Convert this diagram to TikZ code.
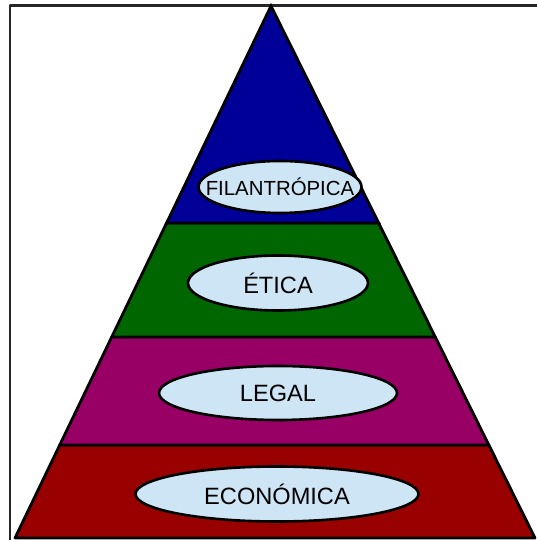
\documentclass[tikz,border=0pt]{standalone}
\usepackage{fontspec}
\setmainfont{Liberation Sans}
\usetikzlibrary{shapes.geometric,calc}
\definecolor{filanColor}{RGB}{0,0,153}
\definecolor{eticaColor}{RGB}{0,102,0}
\definecolor{legalColor}{RGB}{153,0,102}
\definecolor{econColor}{RGB}{153,0,0}
\definecolor{ovalColor}{RGB}{206,229,245}
\newcommand{\ovaltext}[1]{\makebox[0pt]{#1}}
\tikzset{oval/.style={ellipse,draw=black,line width=2.6pt,fill=ovalColor,inner sep=0pt,
  font=\fontsize{23.6}{28}\selectfont}}
\begin{document}
\begin{tikzpicture}[line cap=round,line join=round,x=1pt,y=1pt]
  \useasboundingbox (0,0) rectangle (537,540);
  \draw[line width=2.6pt,color=black!85] (10,0) -- (10,534.5) -- (537,534.5);
  \coordinate (A) at (271,534);
  \coordinate (L) at (15,2);
  \coordinate (R) at (535,2);
  \foreach \n/\t in {1/0.1748,2/0.3778,3/0.5921}{
    \coordinate (L\n) at ($(L)!\t!(A)$);
    \coordinate (R\n) at ($(R)!\t!(A)$);
  }
  \draw[line width=2.8pt,fill=econColor] (L) -- (R) -- (R1) -- (L1) -- cycle;
  \draw[line width=2.8pt,fill=legalColor] (L1) -- (R1) -- (R2) -- (L2) -- cycle;
  \draw[line width=2.8pt,fill=eticaColor] (L2) -- (R2) -- (R3) -- (L3) -- cycle;
  \draw[line width=2.8pt,fill=filanColor,line join=miter] (L3) -- (R3) -- (A) -- cycle;
  \node[oval,minimum width=163pt,minimum height=52pt,font=\fontsize{20.4}{24}\selectfont] (filan) at (280,353) {\ovaltext{FILANTRÓPICA}};
  \node[oval,minimum width=180pt,minimum height=55pt] (etica) at (278,257) {\ovaltext{ÉTICA}};
  \node[oval,minimum width=238pt,minimum height=54pt] (legal) at (278,147) {\ovaltext{LEGAL}};
  \node[oval,minimum width=283pt,minimum height=55pt] (econ) at (277,46) {\ovaltext{ECONÓMICA}};
\end{tikzpicture}
\end{document}
